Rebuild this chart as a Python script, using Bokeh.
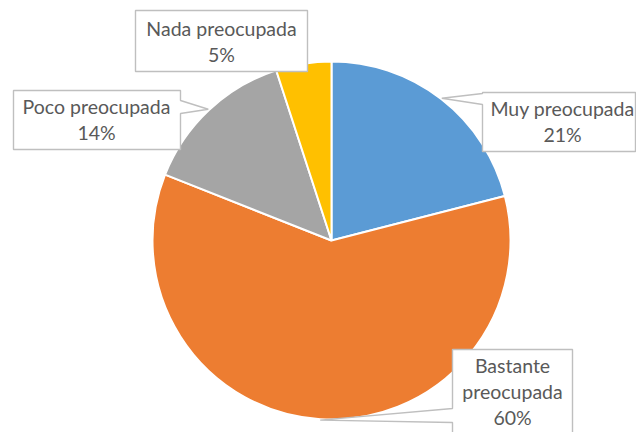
import math
from bokeh.plotting import figure
from bokeh.models import Range1d, ColumnDataSource
from bokeh.core.properties import value
from bokeh.embed import file_html
from bokeh.resources import INLINE

# ---- data ----
categories = ["Muy preocupada", "Bastante preocupada", "Poco preocupada", "Nada preocupada"]
values = [21, 60, 14, 5]
colors = ["#5B9BD5", "#ED7D31", "#A5A5A5", "#FFC000"]
label_lines = [["Muy preocupada"], ["Bastante", "preocupada"], ["Poco preocupada"], ["Nada preocupada"]]

# ---- layout (pixel coordinates, y downwards) ----
W, H = 636, 432
CX, CY, R = 331, 240, 179
# box: x0, x1, y0, y1, pointer side, pointer base (b0, b1), text centre x, first baseline
boxes = [
    dict(x0=482, x1=635, y0=92, y1=151, side="left", b=(93, 104), tx=562, ty=108),
    dict(x0=452, x1=572, y0=349, y1=470, side="left", b=(408, 422), tx=512, ty=365),
    dict(x0=13, x1=180, y0=90, y1=149, side="right", b=(100, 113), tx=96, ty=106),
    dict(x0=135, x1=307, y0=10, y1=71, side=None, b=None, tx=221, ty=28),
]
LINE_STEP = 26
FONT = "Lato"
FONT_SIZE = "19.5px"
TEXT_COLOR = "#595959"
BOX_LINE = "#BFBFBF"


def Y(py):
    return H - py


p = figure(width=W, height=H, x_range=Range1d(0, W), y_range=Range1d(0, H),
           output_backend="svg", toolbar_location=None, min_border=0)
p.axis.visible = False
p.grid.visible = False
p.outline_line_color = None
p.background_fill_color = "white"
p.border_fill_color = "white"

total = sum(values)
starts, ends, mids = [], [], []
a = math.pi / 2
for v in values:
    sweep = 2 * math.pi * v / total
    starts.append(a)
    ends.append(a - sweep)
    mids.append(a - sweep / 2)
    a -= sweep

src = ColumnDataSource(dict(x=[CX] * len(values), y=[Y(CY)] * len(values),
                            start=ends, end=starts, color=colors))
p.wedge(x="x", y="y", radius=R, start_angle="start", end_angle="end",
        fill_color="color", line_color="white", line_width=2, source=src)

# callout boxes
xs, ys = [], []
tx, ty, tt = [], [], []
for i, b in enumerate(boxes):
    x0, x1, y0, y1 = b["x0"], b["x1"], b["y0"], b["y1"]
    tip = (CX + (R + 1) * math.cos(mids[i]), CY - (R + 1) * math.sin(mids[i]))
    if b["side"] == "right":
        pts = [(x0, y0), (x1, y0), (x1, b["b"][0]), tip, (x1, b["b"][1]), (x1, y1), (x0, y1)]
    elif b["side"] == "left":
        pts = [(x0, y0), (x1, y0), (x1, y1), (x0, y1), (x0, b["b"][1]), tip, (x0, b["b"][0])]
    else:
        pts = [(x0, y0), (x1, y0), (x1, y1), (x0, y1)]
    xs.append([q[0] for q in pts])
    ys.append([Y(q[1]) for q in pts])
    lines = label_lines[i] + [f"{values[i]}%"]
    for k, line in enumerate(lines):
        tx.append(b["tx"])
        ty.append(Y(b["ty"] + k * LINE_STEP))
        tt.append(line)

p.patches(xs=xs, ys=ys, fill_color="white", line_color=BOX_LINE, line_width=1.4)
p.text(x=tx, y=ty, text=tt, text_font=value(FONT), text_font_size=FONT_SIZE,
       text_color=TEXT_COLOR, text_align="center", text_baseline="alphabetic")

open("out.html", "w").write(file_html(p, INLINE))
